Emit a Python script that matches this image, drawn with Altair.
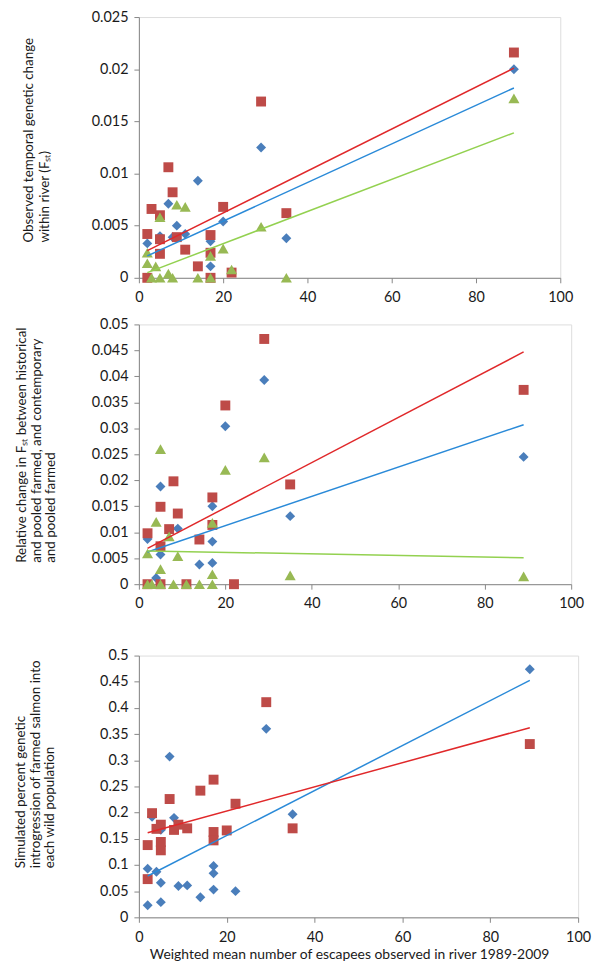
import altair as alt
import pandas as pd

FONT = "Lato"
TEXT = "#1a1a1a"
AXIS = "#878787"
BLUE_PT = "#4A7EBB"
RED_PT = "#BE4B48"
GREEN_PT = "#98B954"
BLUE_LN = "#2A8AD8"
RED_LN = "#E0282A"
GREEN_LN = "#93D150"

X_TICKS = [0, 20, 40, 60, 80, 100]

# ---------------- Panel 1: observed temporal genetic change ----------------
p1_blue_x = [2, 5, 7, 8, 9, 11, 14, 17, 17, 20, 29, 35, 89]
p1_blue_y = [0.0033, 0.0040, 0.0071, 0.0039, 0.0050, 0.0042, 0.0093, 0.0035, 0.0011, 0.0054, 0.0125, 0.0038, 0.0200]
p1_red_x = [2, 2, 3, 5, 5, 5, 7, 8, 9, 11, 14, 17, 17, 17, 20, 22, 29, 35, 89]
p1_red_y = [0.0042, 0.0, 0.0066, 0.0060, 0.0037, 0.0023, 0.0106, 0.0082, 0.0039, 0.0027, 0.0011, 0.0041, 0.0024, 0.0,
            0.0068, 0.0005, 0.0169, 0.0062, 0.0216]
p1_green_x = [2, 2, 3, 4, 5, 5, 7, 8, 9, 11, 14, 17, 17, 20, 22, 29, 35, 89]
p1_green_y = [0.0024, 0.0014, 0.0, 0.0011, 0.0058, 0.0, 0.0004, 0.0, 0.0070, 0.0068, 0.0, 0.0021, 0.0, 0.0028, 0.0008,
              0.0049, 0.0, 0.0172]
p1_trend_x = [2, 89]
p1_trend_blue = [0.0021, 0.0182]
p1_trend_red = [0.0026, 0.0201]
p1_trend_green = [0.0005, 0.0139]
p1_y_ticks = [0, 0.005, 0.01, 0.015, 0.02, 0.025]
p1_title = ["Observed temporal genetic change", "within river (F\u209b\u209c)"]

# ---------------- Panel 2: relative change in FST ----------------
p2_blue_x = [2, 4, 5, 5, 9, 14, 17, 17, 17, 20, 29, 35, 89]
p2_blue_y = [0.0087, 0.0012, 0.0188, 0.0057, 0.0107, 0.0038, 0.0150, 0.0082, 0.0041, 0.0304, 0.0393, 0.0131, 0.0245]
p2_red_x = [2, 2, 5, 5, 5, 7, 8, 9, 11, 14, 17, 17, 20, 22, 29, 35, 89]
p2_red_y = [0.0098, 0.0, 0.0149, 0.0073, 0.0, 0.0106, 0.0198, 0.0136, 0.0, 0.0086, 0.0167, 0.0114, 0.0344, 0.0,
            0.0472, 0.0192, 0.0374]
p2_green_x = [2, 2, 3, 4, 5, 5, 5, 7, 8, 9, 11, 14, 17, 17, 17, 20, 29, 35, 89]
p2_green_y = [0.0059, 0.0, 0.0, 0.0120, 0.0260, 0.0029, 0.0, 0.0092, 0.0, 0.0054, 0.0, 0.0, 0.0118, 0.0019, 0.0,
              0.0220, 0.0244, 0.0017, 0.0015]
p2_trend_x = [2, 89]
p2_trend_blue = [0.0062, 0.0307]
p2_trend_red = [0.0069, 0.0447]
p2_trend_green = [0.0064, 0.0051]
p2_y_ticks = [0, 0.005, 0.01, 0.015, 0.02, 0.025, 0.03, 0.035, 0.04, 0.045, 0.05]
p2_title = ["Relative change in F\u209b\u209c between historical", "and pooled farmed, and contemporary",
            "and pooled farmed"]

# ---------------- Panel 3: simulated introgression ----------------
p3_blue_x = [2, 2, 3, 4, 5, 5, 5, 7, 8, 9, 11, 14, 17, 17, 17, 22, 29, 35, 89]
p3_blue_y = [0.023, 0.093, 0.192, 0.087, 0.066, 0.029, 0.167, 0.307, 0.190, 0.060, 0.061, 0.0385, 0.098, 0.084,
             0.053, 0.050, 0.360, 0.197, 0.474]
p3_red_x = [2, 2, 3, 4, 5, 5, 5, 7, 8, 9, 11, 14, 17, 17, 17, 20, 22, 29, 35, 89]
p3_red_y = [0.138, 0.073, 0.199, 0.169, 0.177, 0.144, 0.128, 0.226, 0.167, 0.177, 0.170, 0.242, 0.263, 0.163,
            0.147, 0.166, 0.217, 0.411, 0.170, 0.331]
p3_trend_x = [2, 89]
p3_trend_blue = [0.0790, 0.4527]
p3_trend_red = [0.1616, 0.3623]
p3_y_ticks = [0, 0.05, 0.1, 0.15, 0.2, 0.25, 0.3, 0.35, 0.4, 0.45, 0.5]
p3_title = ["Simulated percent genetic", "introgression of farmed salmon into", "each wild population"]
x_title = "Weighted mean number of escapees observed in river 1989-2009"


def make_axes(y_ticks, y_title, tx, ty, lh, xt=None, xt_y=0, xt_x=None):
    common = dict(grid=False, domainColor=AXIS, tickColor=AXIS, tickSize=5, domainWidth=1, tickWidth=1,
                  labelFont=FONT, labelFontSize=14.5, labelColor=TEXT, labelOverlap=False, labelFlush=False,
                  titleFont=FONT, titleFontWeight="normal", titleColor=TEXT)
    xkw = dict(values=X_TICKS, labelPadding=8, titleFontSize=14, **common)
    if xt is None:
        xkw["title"] = None
    else:
        xkw.update(title=xt, titleY=xt_y, titleBaseline="top")
        if xt_x is not None:
            xkw.update(titleX=xt_x, titleAlign="center")
    yaxis = alt.Axis(values=y_ticks, format="~g", labelPadding=6, title=y_title, titleAngle=270,
                     titleFontSize=13.5, titleAlign="left", titleBaseline="top", titleX=tx, titleY=ty,
                     titleLineHeight=lh, **common)
    return alt.Axis(**xkw), yaxis


def panel(series, trends, y_ticks, y_title, width, height, tx, ty, lh, xt=None, xt_y=0, xt_x=None):
    xaxis, yaxis = make_axes(y_ticks, y_title, tx, ty, lh, xt, xt_y, xt_x)
    xs = alt.Scale(domain=[0, 100], nice=False, zero=False)
    ys = alt.Scale(domain=[0, y_ticks[-1]], nice=False)
    layers = []
    for xv, yv, shape, color, size in series:
        df = pd.DataFrame({"x": xv, "y": yv})
        layers.append(
            alt.Chart(df).mark_point(shape=shape, filled=True, size=size, color=color, opacity=1, strokeWidth=0)
            .encode(x=alt.X("x:Q", scale=xs, axis=xaxis), y=alt.Y("y:Q", scale=ys, axis=yaxis))
        )
    for xv, yv, color in trends:
        df = pd.DataFrame({"x": xv, "y": yv})
        layers.append(
            alt.Chart(df).mark_line(color=color, strokeWidth=1.5)
            .encode(x=alt.X("x:Q", scale=xs, axis=xaxis), y=alt.Y("y:Q", scale=ys, axis=yaxis))
        )
    return alt.layer(*layers).properties(width=width, height=height)


c1 = panel(
    [(p1_blue_x, p1_blue_y, "diamond", BLUE_PT, 100),
     (p1_red_x, p1_red_y, "square", RED_PT, 100),
     (p1_green_x, p1_green_y, "triangle-up", GREEN_PT, 125)],
    [(p1_trend_x, p1_trend_blue, BLUE_LN), (p1_trend_x, p1_trend_red, RED_LN), (p1_trend_x, p1_trend_green, GREEN_LN)],
    p1_y_ticks, p1_title, 425, 263, -118, 227, 16,
)
c2 = panel(
    [(p2_blue_x, p2_blue_y, "diamond", BLUE_PT, 100),
     (p2_red_x, p2_red_y, "square", RED_PT, 100),
     (p2_green_x, p2_green_y, "triangle-up", GREEN_PT, 125)],
    [(p2_trend_x, p2_trend_blue, BLUE_LN), (p2_trend_x, p2_trend_red, RED_LN), (p2_trend_x, p2_trend_green, GREEN_LN)],
    p2_y_ticks, p2_title, 436, 262, -125, 240, 14.5, xt=" ", xt_y=37,
)
c3 = panel(
    [(p3_blue_x, p3_blue_y, "diamond", BLUE_PT, 100),
     (p3_red_x, p3_red_y, "square", RED_PT, 100)],
    [(p3_trend_x, p3_trend_blue, BLUE_LN), (p3_trend_x, p3_trend_red, RED_LN)],
    p3_y_ticks, p3_title, 443, 264, -126, 214, 14.5, xt=x_title, xt_y=31, xt_x=212,
)

chart = alt.vconcat(c1, c2, c3, spacing=11).properties(
    padding={"left": 5, "top": -4, "right": 0, "bottom": 4}
).configure_view(stroke=None).configure(background="white")

chart.save("out.html", embed_options={"renderer": "svg", "actions": False})
